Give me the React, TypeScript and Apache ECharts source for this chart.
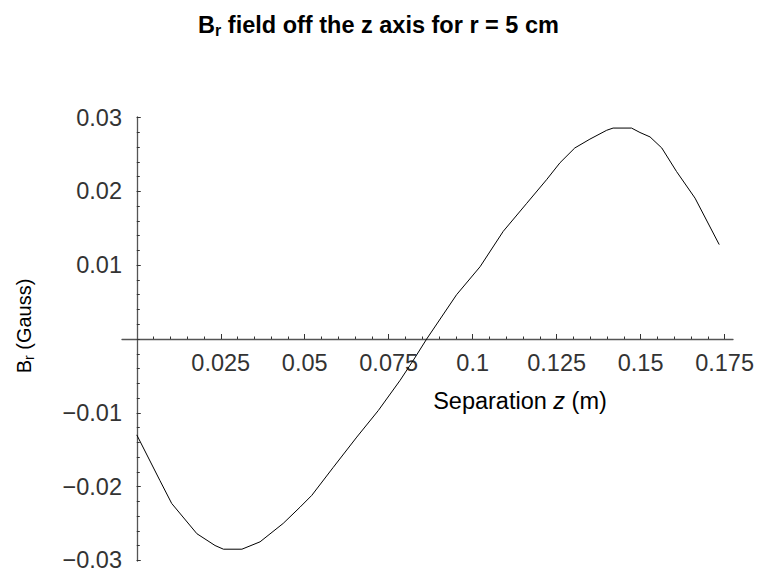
import React, { useEffect, useRef } from "react";
import * as echarts from "echarts";

// Radial field component B_r (Gauss) sampled along the separation z (m), r = 5 cm
const zValues = [
  0, 0.0069, 0.0104, 0.0179, 0.0233, 0.0258, 0.0313, 0.0367, 0.0436, 0.0486,
  0.0521, 0.0585, 0.0655, 0.0719, 0.0784, 0.0823, 0.0863, 0.0952, 0.1022,
  0.1091, 0.1161, 0.122, 0.126, 0.1304, 0.1349, 0.1399, 0.1418, 0.1473,
  0.1498, 0.1528, 0.1563, 0.1607, 0.1662, 0.1734,
];
const brValues = [
  -0.013, -0.0192, -0.0223, -0.0264, -0.028, -0.0285, -0.0285, -0.0275,
  -0.025, -0.0228, -0.0212, -0.0174, -0.0133, -0.0097, -0.0056, -0.0029, 0.0,
  0.006, 0.0098, 0.0146, 0.0184, 0.0216, 0.0239, 0.0259, 0.0271, 0.0283,
  0.0286, 0.0286, 0.028, 0.0274, 0.0259, 0.0227, 0.0191, 0.0128,
];

// Tick marks and labels
const xMajorTicks = [0.025, 0.05, 0.075, 0.1, 0.125, 0.15, 0.175];
const yMajorTicks = [-0.03, -0.02, -0.01, 0.01, 0.02, 0.03];
const xMinorTicks = Array.from({ length: 35 }, (_, i) => +((i + 1) * 0.005).toFixed(3));
const yMinorTicks = Array.from({ length: 31 }, (_, i) => +(-0.03 + i * 0.002).toFixed(3));

const X_MIN = -0.0044;
const X_MAX = 0.1775;
const Y_MIN = -0.0301;
const Y_MAX = 0.0301;

const LABEL_FONT = "Liberation Sans";
const AXIS_COLOR = "#555";
const TICK_COLOR = "#333";

const fmt = (v: number) => String(v).replace("-", "\u2212");

export default function App() {
  const ref = useRef<HTMLDivElement>(null);

  useEffect(() => {
    if (!ref.current) return;
    const chart = echarts.init(ref.current, null, { renderer: "svg" });

    const tickLabel = {
      fontFamily: LABEL_FONT,
      fontSize: 23.5,
      color: "#333",
      formatter: (v: number) => fmt(v),
    };

    chart.setOption({
      animation: false,
      backgroundColor: "#fff",
      title: {
        text: "{b|B}{s|r}{b| field off the z axis for r = 5 cm}",
        left: "center",
        top: 7,
        textStyle: {
          rich: {
            b: { fontFamily: LABEL_FONT, fontWeight: "bold", fontSize: 23.5, color: "#000" },
            s: {
              fontFamily: LABEL_FONT,
              fontWeight: "bold",
              fontSize: 16,
              color: "#000",
              padding: [10, 0, 0, 0],
            },
          },
        },
      },
      grid: [
        // plotting area
        { left: 122, right: 24, top: 117, bottom: 14, outerBoundsMode: "none" },
        // upper half: its bottom edge lies on B_r = 0 and carries the z labels
        { left: 122, right: 24, top: 117, bottom: 236, outerBoundsMode: "none" },
      ],
      xAxis: [
        {
          type: "value",
          gridIndex: 0,
          min: X_MIN,
          max: X_MAX,
          position: "bottom",
          axisLine: { onZero: true, lineStyle: { color: AXIS_COLOR, width: 1.3 } },
          axisTick: {
            inside: true,
            length: 5,
            customValues: xMajorTicks,
            lineStyle: { color: TICK_COLOR, width: 1 },
          },
          axisLabel: { show: false },
          splitLine: { show: false },
        },
        {
          type: "value",
          gridIndex: 0,
          min: X_MIN,
          max: X_MAX,
          position: "bottom",
          axisLine: { show: false, onZero: true, onZeroAxisIndex: 0 },
          axisTick: {
            inside: true,
            length: 2.5,
            customValues: xMinorTicks,
            lineStyle: { color: TICK_COLOR, width: 1 },
          },
          axisLabel: { show: false },
          splitLine: { show: false },
        },
        {
          type: "value",
          gridIndex: 1,
          min: X_MIN,
          max: X_MAX,
          position: "bottom",
          axisLine: { show: false, onZero: false },
          axisTick: { show: false },
          axisLabel: { ...tickLabel, customValues: xMajorTicks, margin: 12 },
          splitLine: { show: false },
        },
      ],
      yAxis: [
        {
          type: "value",
          gridIndex: 0,
          min: Y_MIN,
          max: Y_MAX,
          position: "left",
          axisLine: { onZero: true, lineStyle: { color: AXIS_COLOR, width: 1.3 } },
          axisTick: {
            inside: true,
            length: 4,
            customValues: yMajorTicks,
            lineStyle: { color: TICK_COLOR, width: 1 },
          },
          axisLabel: { ...tickLabel, customValues: yMajorTicks, margin: 0 },
          splitLine: { show: false },
        },
        {
          type: "value",
          gridIndex: 0,
          min: Y_MIN,
          max: Y_MAX,
          position: "left",
          axisLine: { show: false, onZero: true, onZeroAxisIndex: 0 },
          axisTick: {
            inside: true,
            length: 3,
            customValues: yMinorTicks,
            lineStyle: { color: TICK_COLOR, width: 1 },
          },
          axisLabel: { show: false },
          splitLine: { show: false },
        },
        {
          type: "value",
          gridIndex: 1,
          min: 0,
          max: Y_MAX,
          show: false,
        },
      ],
      graphic: [
        {
          type: "text",
          x: 520,
          y: 401,
          style: {
            text: "{n|Separation }{i|z}{n| (m)}",
            align: "center",
            verticalAlign: "middle",
            rich: {
              n: { fontFamily: LABEL_FONT, fontSize: 23.5, fill: "#000" },
              i: { fontFamily: LABEL_FONT, fontSize: 23.5, fontStyle: "italic", fill: "#000" },
            },
          },
        },
        {
          type: "text",
          x: 24,
          y: 326,
          rotation: Math.PI / 2,
          style: {
            text: "{n|B}{s|r}{n| (Gauss)}",
            align: "center",
            verticalAlign: "middle",
            rich: {
              n: { fontFamily: LABEL_FONT, fontSize: 20, fill: "#000" },
              s: { fontFamily: LABEL_FONT, fontSize: 14, fill: "#000", padding: [9, 0, 0, 0] },
            },
          },
        },
      ],
      series: [
        {
          type: "line",
          xAxisIndex: 0,
          yAxisIndex: 0,
          data: zValues.map((z, i) => [z, brValues[i]]),
          showSymbol: false,
          smooth: false,
          lineStyle: { color: "#000", width: 1 },
          clip: false,
        },
      ],
    });

    return () => chart.dispose();
  }, []);

  return (
    <div
      ref={ref}
      style={{ position: "fixed", left: 0, top: 0, width: 757, height: 575 }}
    />
  );
}
